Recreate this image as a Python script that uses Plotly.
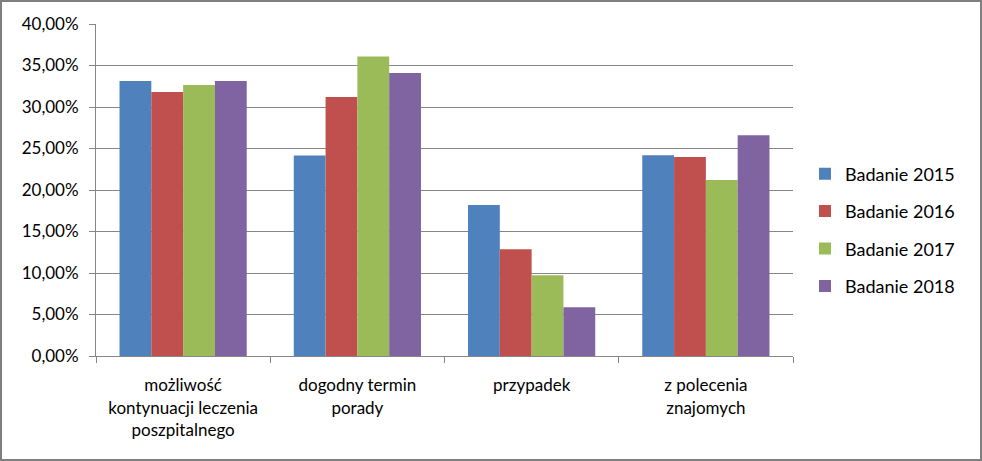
import plotly.graph_objects as go

categories = ["możliwość<br>kontynuacji leczenia<br>poszpitalnego",
              "dogodny termin<br>porady",
              "przypadek",
              "z polecenia<br>znajomych"]
series_names = ["Badanie 2015", "Badanie 2016", "Badanie 2017", "Badanie 2018"]
v2015 = [0.3313, 0.2417, 0.1818, 0.2420]
v2016 = [0.3180, 0.3120, 0.1287, 0.2397]
v2017 = [0.3265, 0.3607, 0.0973, 0.2120]
v2018 = [0.3313, 0.3410, 0.0587, 0.2660]
colors = ["#4F81BD", "#C0504D", "#9BBB59", "#8064A2"]
y_ticks = [0, 0.05, 0.10, 0.15, 0.20, 0.25, 0.30, 0.35, 0.40]

fig = go.Figure()
for name, vals, col in zip(series_names, [v2015, v2016, v2017, v2018], colors):
    fig.add_trace(go.Bar(x=categories, y=vals, name=name, marker_color=col,
                         marker_line_width=0, legendgroup=name))

W, H = 982, 461
ml, mr, mt, mb = 96, 189, 24, 105
pw, ph = W - ml - mr, H - mt - mb

fig.update_layout(
    width=W, height=H,
    margin=dict(l=ml, r=mr, t=mt, b=mb, pad=0),
    paper_bgcolor="white", plot_bgcolor="white",
    barmode="group", bargap=0.27, bargroupgap=0,
    separators=", ",
    font=dict(family="Lato, 'Open Sans', sans-serif", size=17, color="#000000"),
    showlegend=True,
    legend=dict(x=(805 - ml) / pw, y=(H - mb - 230) / ph, xanchor="left", yanchor="middle",
                font=dict(size=18), tracegroupgap=11, itemwidth=30,
                bgcolor="rgba(0,0,0,0)"),
    shapes=[dict(type="rect", xref="paper", yref="paper",
                 x0=(-ml + 1) / pw, x1=1 + (mr - 1) / pw,
                 y0=(-mb + 1) / ph, y1=1 + (mt - 1) / ph,
                 line=dict(color="#7F7F7F", width=2), layer="below")],
)
fig.update_xaxes(showline=True, linecolor="#868686", linewidth=1,
                 ticks="outside", tickson="boundaries", ticklen=6, tickcolor="#868686",
                 showgrid=False, tickfont=dict(size=17), ticklabelstandoff=14)
fig.update_yaxes(range=[0, 0.40], tickvals=y_ticks, tickformat=".2%",
                 showline=True, linecolor="#868686", linewidth=1,
                 ticks="outside", ticklen=6, tickcolor="#868686",
                 showgrid=True, gridcolor="#868686", gridwidth=1,
                 zeroline=False, tickfont=dict(size=17), ticklabelstandoff=7)

fig.write_html("out.html")
